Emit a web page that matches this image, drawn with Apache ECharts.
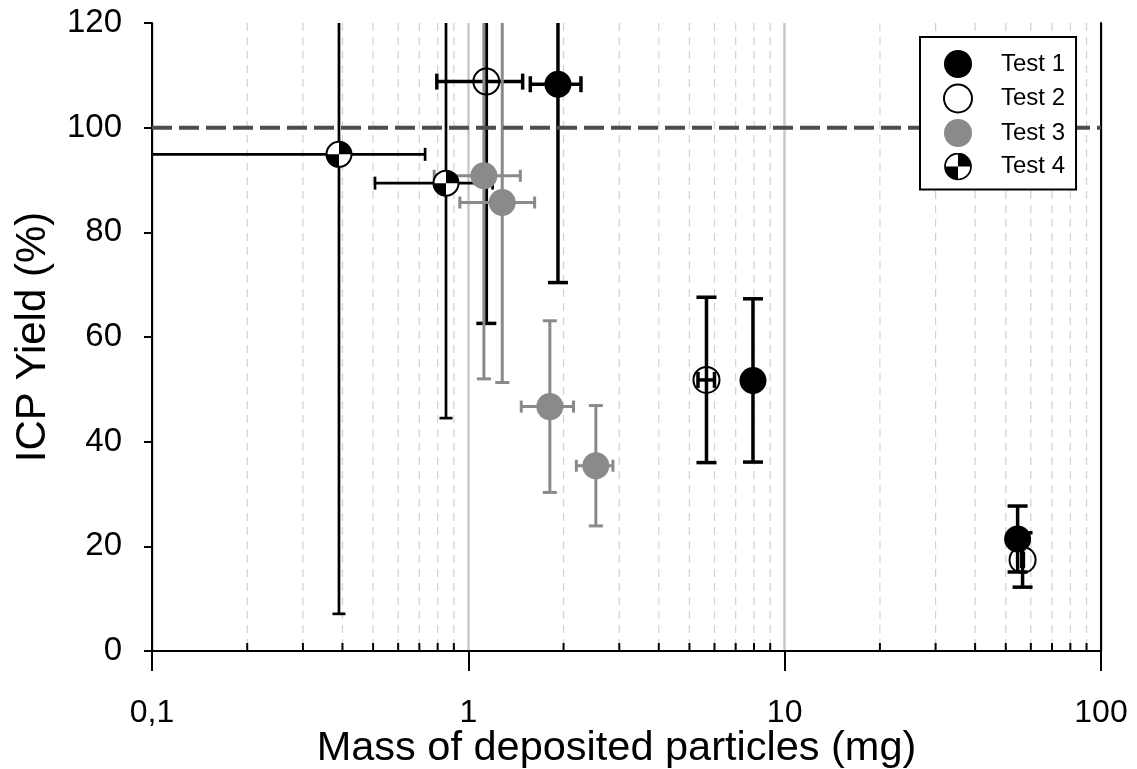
<!DOCTYPE html>
<html>
<head>
<meta charset="utf-8">
<script src="https://cdn.jsdelivr.net/npm/echarts@6/dist/echarts.min.js"></script>
<style>
  html, body { margin: 0; padding: 0; background: #fff; }
  #chart { width: 1137px; height: 769px; }
</style>
</head>
<body>
<div id="chart"></div>
<script>
// ---------- data ----------
const xTickLabels = { 0.1: '0,1', 1: '1', 10: '10', 100: '100' };
const yTicks = [0, 20, 40, 60, 80, 100, 120];
const minorTicks = [0.2, 0.3, 0.4, 0.5, 0.6, 0.7, 0.8, 0.9,
                    2, 3, 4, 5, 6, 7, 8, 9,
                    20, 30, 40, 50, 60, 70, 80, 90];
const refLine = [100];

const test1X = [1.92, 7.94, 54.5];
const test1Y = [108.3, 51.7, 21.4];
const test1XErr = [0.35, 0.34, 0.34];
const test1YErr = [37.9, 15.6, 6.3];

const test2X = [1.14, 5.66, 56.5];
const test2Y = [108.8, 51.8, 17.4];
const test2XErr = [0.345, 0.34, 0.34];
const test2YErr = [46.2, 15.8, 5.2];

const test3X = [1.12, 1.28, 1.81, 2.53];
const test3Y = [90.8, 85.7, 46.7, 35.4];
const test3XErr = [0.34, 0.34, 0.34, 0.335];
const test3YErr = [38.8, 34.4, 16.4, 11.5];

const test4X = [0.39, 0.85];
const test4Y = [94.9, 89.4];
const test4XErr = [0.34, 0.343];
const test4YErr = [87.8, 44.9];

// ---------- helpers ----------
const FONT = "'Liberation Sans', Arial, Helvetica, sans-serif";
const GRAY = '#8a8a8a';

function rows(xs, ys, xe, ye) {
  return xs.map((x, i) => [x, ys[i], xe[i], ye[i]]);
}

function errRender(color, lw, capV, capH) {
  return function (params, api) {
    const cs = params.coordSys;
    const x = api.value(0), y = api.value(1), xe = api.value(2), ye = api.value(3);
    const c = api.coord([x, y]);
    const yt = api.coord([x, y + ye])[1];
    const yb = api.coord([x, y - ye])[1];
    const top = Math.max(yt, cs.y), bot = Math.min(yb, cs.y + cs.height);
    const xl = (x - xe) > 0 ? api.coord([x - xe, y])[0] : -1e9;
    const xr = api.coord([x + xe, y])[0];
    const left = Math.max(xl, cs.x), right = Math.min(xr, cs.x + cs.width);
    const st = { stroke: color, lineWidth: lw, lineCap: 'butt' };
    const ch = [];
    ch.push({ type: 'line', shape: { x1: c[0], y1: top, x2: c[0], y2: bot }, style: st });
    if (yt >= cs.y - 0.5) ch.push({ type: 'line', shape: { x1: c[0] - capV, y1: yt, x2: c[0] + capV, y2: yt }, style: st });
    if (yb <= cs.y + cs.height + 0.5) ch.push({ type: 'line', shape: { x1: c[0] - capV, y1: yb, x2: c[0] + capV, y2: yb }, style: st });
    ch.push({ type: 'line', shape: { x1: left, y1: c[1], x2: right, y2: c[1] }, style: st });
    if (xl >= cs.x - 0.5) ch.push({ type: 'line', shape: { x1: xl, y1: c[1] - capH, x2: xl, y2: c[1] + capH }, style: st });
    if (xr <= cs.x + cs.width + 0.5) ch.push({ type: 'line', shape: { x1: xr, y1: c[1] - capH, x2: xr, y2: c[1] + capH }, style: st });
    return { type: 'group', children: ch };
  };
}

function quarterRender(params, api) {
  const c = api.coord([api.value(0), api.value(1)]);
  const r = 12.5;
  return {
    type: 'group',
    children: [
      { type: 'circle', shape: { cx: c[0], cy: c[1], r: r }, style: { fill: '#fff' } },
      { type: 'sector', shape: { cx: c[0], cy: c[1], r: r, r0: 0, startAngle: -Math.PI / 2, endAngle: 0, clockwise: true }, style: { fill: '#000' } },
      { type: 'sector', shape: { cx: c[0], cy: c[1], r: r, r0: 0, startAngle: Math.PI / 2, endAngle: Math.PI, clockwise: true }, style: { fill: '#000' } },
      { type: 'circle', shape: { cx: c[0], cy: c[1], r: r }, style: { fill: 'none', stroke: '#000', lineWidth: 2 } }
    ]
  };
}

function minorRender(params, api) {
  const cs = params.coordSys;
  const px = api.coord([api.value(0), 1])[0];
  const b = cs.y + cs.height;
  return {
    type: 'group',
    children: [
      { type: 'line', shape: { x1: px, y1: cs.y, x2: px, y2: b }, style: { stroke: '#d2d2d2', lineWidth: 1.2, lineDash: [8, 6] } },
      { type: 'line', shape: { x1: px, y1: b - 8, x2: px, y2: b }, style: { stroke: '#000', lineWidth: 2 } }
    ]
  };
}

function refRender(params, api) {
  const cs = params.coordSys;
  const py = api.coord([1, api.value(0)])[1];
  return {
    type: 'line',
    shape: { x1: cs.x, y1: py, x2: cs.x + cs.width, y2: py },
    style: { stroke: '#4d4d4d', lineWidth: 4, lineDash: [20, 7] }
  };
}

const quarterSvg = "<svg xmlns='http://www.w3.org/2000/svg' width='56' height='56' viewBox='0 0 56 56'>" +
  "<circle cx='28' cy='28' r='26' fill='white'/>" +
  "<path d='M28 28 L28 2 A26 26 0 0 1 54 28 Z' fill='black'/>" +
  "<path d='M28 28 L28 54 A26 26 0 0 1 2 28 Z' fill='black'/>" +
  "<circle cx='28' cy='28' r='26' fill='none' stroke='black' stroke-width='3.5'/></svg>";
const quarterIcon = 'image://data:image/svg+xml;charset=utf-8,' + encodeURIComponent(quarterSvg);

// ---------- chart ----------
const chart = echarts.init(document.getElementById('chart'), null, { renderer: 'canvas' });

const option = {
  animation: false,
  backgroundColor: '#fff',
  textStyle: { fontFamily: FONT },
  grid: { left: 152, right: 36, top: 23, bottom: 118, containLabel: false, outerBoundsMode: 'none' },
  legend: {
    orient: 'vertical',
    left: 920, top: 37,
    padding: [13, 11, 9, 23],
    itemWidth: 28, itemHeight: 28, itemGap: 5.5,
    backgroundColor: '#fff', borderColor: '#000', borderWidth: 2, borderRadius: 0,
    textStyle: { fontSize: 24, color: '#000', fontFamily: FONT, padding: [0, 0, 0, 24] },
    data: [
      { name: 'Test 1', icon: 'circle', itemStyle: { color: '#000' } },
      { name: 'Test 2', icon: 'circle', itemStyle: { color: '#fff', borderColor: '#000', borderWidth: 2 } },
      { name: 'Test 3', icon: 'circle', itemStyle: { color: GRAY } },
      { name: 'Test 4', icon: quarterIcon }
    ]
  },
  xAxis: [
    {
      type: 'log', logBase: 10, min: 0.1, max: 100,
      name: 'Mass of deposited particles (mg)',
      nameLocation: 'middle', nameGap: 77, nameMoveOverlap: false,
      nameTextStyle: { fontSize: 41.5, color: '#000', fontFamily: FONT, padding: [0, 20, 0, 0] },
      axisLine: { lineStyle: { color: '#000', width: 2 } },
      axisTick: { show: true, inside: false, length: 20, lineStyle: { color: '#000', width: 2 } },
      axisLabel: {
        fontSize: 32, color: '#000', margin: 46, fontFamily: FONT,
        showMinLabel: true, showMaxLabel: true,
        formatter: function (v) {
          const k = Math.round(Math.log10(v));
          return xTickLabels[Math.pow(10, k)] || String(v);
        }
      },
      splitLine: { show: true, lineStyle: { color: '#c8c8c8', width: 2.5 } }
    },
    {
      type: 'log', logBase: 10, min: 0.1, max: 100, position: 'top',
      axisLine: { show: true, lineStyle: { color: '#000', width: 2 } },
      axisTick: { show: false }, axisLabel: { show: false }, splitLine: { show: false }
    }
  ],
  yAxis: [
    {
      type: 'value', min: yTicks[0], max: yTicks[yTicks.length - 1], interval: 20,
      name: 'ICP Yield (%)',
      nameLocation: 'middle', nameGap: 98, nameMoveOverlap: false,
      nameTextStyle: { fontSize: 42, color: '#000', fontFamily: FONT },
      axisLine: { show: true, lineStyle: { color: '#000', width: 2 } },
      axisTick: { show: true, inside: false, length: 8, lineStyle: { color: '#000', width: 2 } },
      axisLabel: { fontSize: 33, color: '#000', margin: 30, fontFamily: FONT },
      splitLine: { show: false }
    },
    {
      type: 'value', min: yTicks[0], max: yTicks[yTicks.length - 1], position: 'right',
      axisLine: { show: true, lineStyle: { color: '#000', width: 2 } },
      axisTick: { show: false }, axisLabel: { show: false }, splitLine: { show: false }
    }
  ],
  series: [
    { name: 'minor', type: 'custom', renderItem: minorRender, data: minorTicks.map(v => [v, 1]), encode: { x: 0, y: 1 }, silent: true, z: 1 },
    { name: 'e1', type: 'custom', renderItem: errRender('#000', 3.5, 10, 8), data: rows(test1X, test1Y, test1XErr, test1YErr), encode: { x: 0, y: 1 }, z: 2 },
    { name: 'e2', type: 'custom', renderItem: errRender('#000', 3.5, 10, 8), data: rows(test2X, test2Y, test2XErr, test2YErr), encode: { x: 0, y: 1 }, z: 2 },
    { name: 'e3', type: 'custom', renderItem: errRender(GRAY, 3, 7, 6), data: rows(test3X, test3Y, test3XErr, test3YErr), encode: { x: 0, y: 1 }, z: 2 },
    { name: 'e4', type: 'custom', renderItem: errRender('#000', 2.7, 6.5, 6.5), data: rows(test4X, test4Y, test4XErr, test4YErr), encode: { x: 0, y: 1 }, z: 2 },
    { name: 'ref', type: 'custom', renderItem: refRender, data: refLine.map(v => [v]), encode: { y: 0 }, z: 3, silent: true },
    { name: 'Test 1', type: 'scatter', symbol: 'circle', symbolSize: 27, itemStyle: { color: '#000', opacity: 1 }, data: test1X.map((x, i) => [x, test1Y[i]]), z: 4 },
    { name: 'Test 2', type: 'scatter', symbol: 'circle', symbolSize: 26, itemStyle: { color: 'rgba(255,255,255,0)', borderColor: '#000', borderWidth: 2, opacity: 1 }, data: test2X.map((x, i) => [x, test2Y[i]]), z: 5 },
    { name: 'Test 3', type: 'scatter', symbol: 'circle', symbolSize: 27, itemStyle: { color: GRAY, opacity: 1 }, data: test3X.map((x, i) => [x, test3Y[i]]), z: 4 },
    { name: 'Test 4', type: 'custom', renderItem: quarterRender, data: test4X.map((x, i) => [x, test4Y[i]]), encode: { x: 0, y: 1 }, z: 6 }
  ]
};

chart.setOption(option);
</script>
</body>
</html>
